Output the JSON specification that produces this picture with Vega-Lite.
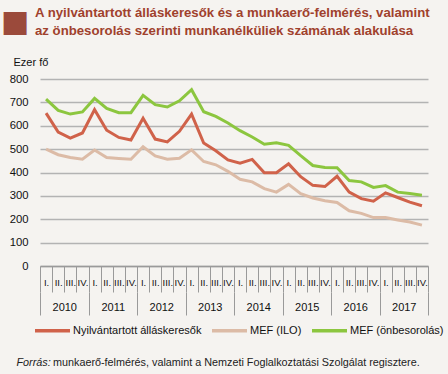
{
  "$schema": "https://vega.github.io/schema/vega-lite/v6.json",
  "width": 388,
  "height": 187,
  "autosize": "none",
  "padding": {"left": 40, "top": 79, "right": 20, "bottom": 108},
  "background": "#f5f3f0",
  "title": {
    "text": ["A nyilvántartott álláskeresők és a munkaerő-felmérés, valamint", "az önbesorolás szerinti munkanélküliek számának alakulása"],
    "anchor": "start",
    "frame": "group",
    "dx": -5,
    "offset": -32,
    "font": "Liberation Sans",
    "fontSize": 13.2,
    "fontWeight": "bold",
    "lineHeight": 17.6,
    "color": "#a0412d"
  },
  "config": {"view": {"stroke": null}},
  "data": {"values": [
    {"period": "2010 I.", "year": "2010", "Nyilvántartott álláskeresők": 654, "MEF (ILO)": 500, "MEF (önbesorolás)": 714},
    {"period": "2010 II.", "year": "2010", "Nyilvántartott álláskeresők": 573, "MEF (ILO)": 476, "MEF (önbesorolás)": 666},
    {"period": "2010 III.", "year": "2010", "Nyilvántartott álláskeresők": 547, "MEF (ILO)": 464, "MEF (önbesorolás)": 650},
    {"period": "2010 IV.", "year": "2010", "Nyilvántartott álláskeresők": 569, "MEF (ILO)": 457, "MEF (önbesorolás)": 659},
    {"period": "2011 I.", "year": "2011", "Nyilvántartott álláskeresők": 669, "MEF (ILO)": 496, "MEF (önbesorolás)": 717},
    {"period": "2011 II.", "year": "2011", "Nyilvántartott álláskeresők": 581, "MEF (ILO)": 464, "MEF (önbesorolás)": 674},
    {"period": "2011 III.", "year": "2011", "Nyilvántartott álláskeresők": 550, "MEF (ILO)": 460, "MEF (önbesorolás)": 656},
    {"period": "2011 IV.", "year": "2011", "Nyilvántartott álláskeresők": 539, "MEF (ILO)": 457, "MEF (önbesorolás)": 656},
    {"period": "2012 I.", "year": "2012", "Nyilvántartott álláskeresők": 632, "MEF (ILO)": 510, "MEF (önbesorolás)": 730},
    {"period": "2012 II.", "year": "2012", "Nyilvántartott álláskeresők": 543, "MEF (ILO)": 471, "MEF (önbesorolás)": 690},
    {"period": "2012 III.", "year": "2012", "Nyilvántartott álláskeresők": 531, "MEF (ILO)": 457, "MEF (önbesorolás)": 680},
    {"period": "2012 IV.", "year": "2012", "Nyilvántartott álláskeresők": 576, "MEF (ILO)": 461, "MEF (önbesorolás)": 707},
    {"period": "2013 I.", "year": "2013", "Nyilvántartott álláskeresők": 650, "MEF (ILO)": 497, "MEF (önbesorolás)": 754},
    {"period": "2013 II.", "year": "2013", "Nyilvántartott álláskeresők": 526, "MEF (ILO)": 447, "MEF (önbesorolás)": 660},
    {"period": "2013 III.", "year": "2013", "Nyilvántartott álláskeresők": 493, "MEF (ILO)": 433, "MEF (önbesorolás)": 640},
    {"period": "2013 IV.", "year": "2013", "Nyilvántartott álláskeresők": 454, "MEF (ILO)": 405, "MEF (önbesorolás)": 612},
    {"period": "2014 I.", "year": "2014", "Nyilvántartott álláskeresők": 440, "MEF (ILO)": 371, "MEF (önbesorolás)": 579},
    {"period": "2014 II.", "year": "2014", "Nyilvántartott álláskeresők": 456, "MEF (ILO)": 360, "MEF (önbesorolás)": 552},
    {"period": "2014 III.", "year": "2014", "Nyilvántartott álláskeresők": 399, "MEF (ILO)": 331, "MEF (önbesorolás)": 521},
    {"period": "2014 IV.", "year": "2014", "Nyilvántartott álláskeresők": 399, "MEF (ILO)": 316, "MEF (önbesorolás)": 527},
    {"period": "2015 I.", "year": "2015", "Nyilvántartott álláskeresők": 437, "MEF (ILO)": 349, "MEF (önbesorolás)": 516},
    {"period": "2015 II.", "year": "2015", "Nyilvántartott álláskeresők": 382, "MEF (ILO)": 309, "MEF (önbesorolás)": 472},
    {"period": "2015 III.", "year": "2015", "Nyilvántartott álláskeresők": 345, "MEF (ILO)": 291, "MEF (önbesorolás)": 430},
    {"period": "2015 IV.", "year": "2015", "Nyilvántartott álláskeresők": 340, "MEF (ILO)": 279, "MEF (önbesorolás)": 421},
    {"period": "2016 I.", "year": "2016", "Nyilvántartott álláskeresők": 384, "MEF (ILO)": 272, "MEF (önbesorolás)": 420},
    {"period": "2016 II.", "year": "2016", "Nyilvántartott álláskeresők": 316, "MEF (ILO)": 236, "MEF (önbesorolás)": 366},
    {"period": "2016 III.", "year": "2016", "Nyilvántartott álláskeresők": 288, "MEF (ILO)": 225, "MEF (önbesorolás)": 360},
    {"period": "2016 IV.", "year": "2016", "Nyilvántartott álláskeresők": 277, "MEF (ILO)": 207, "MEF (önbesorolás)": 336},
    {"period": "2017 I.", "year": "2017", "Nyilvántartott álláskeresők": 313, "MEF (ILO)": 207, "MEF (önbesorolás)": 344},
    {"period": "2017 II.", "year": "2017", "Nyilvántartott álláskeresők": 293, "MEF (ILO)": 197, "MEF (önbesorolás)": 316},
    {"period": "2017 III.", "year": "2017", "Nyilvántartott álláskeresők": 273, "MEF (ILO)": 188, "MEF (önbesorolás)": 310},
    {"period": "2017 IV.", "year": "2017", "Nyilvántartott álláskeresők": 258, "MEF (ILO)": 175, "MEF (önbesorolás)": 303}
  ]},
  "transform": [
    {"fold": ["Nyilvántartott álláskeresők", "MEF (ILO)", "MEF (önbesorolás)"], "as": ["series", "value"]}
  ],
  "layer": [
    {
      "mark": {"type": "line", "strokeWidth": 3},
      "encoding": {
        "x": {
          "field": "period", "type": "ordinal", "sort": null, "bandPosition": 0.5,
          "scale": {"type": "band", "paddingInner": 0, "paddingOuter": 0},
          "axis": {
            "title": "Forrás:", "titleFontStyle": "italic", "titleFont": "Liberation Sans",
            "titleFontSize": 10.8, "titleFontWeight": "normal", "titleColor": "#222", "titleX": -24, "titleY": 99,
            "titleAlign": "left", "titleBaseline": "alphabetic", "titleAngle": 0,
            "labelExpr": "substring(datum.label, 5)", "labelAngle": 0,
            "labelFont": "Liberation Sans", "labelFontSize": 9.5, "labelColor": "#111",
            "labelPadding": -15, "labelOverlap": false, "labelBound": false,
            "tickBand": "extent", "tickSize": 26, "tickColor": "#9a9a9a", "tickWidth": 1,
            "domainColor": "#9a9a9a", "domainWidth": 1.5, "grid": false
          }
        },
        "y": {
          "field": "value", "type": "quantitative",
          "scale": {"domain": [0, 800], "nice": false},
          "axis": {
            "values": [0, 100, 200, 300, 400, 500, 600, 700, 800],
            "title": "Ezer fő", "titleAngle": 0, "titleAlign": "left", "titleBaseline": "alphabetic",
            "titleX": -27, "titleY": -14, "titleFont": "Liberation Sans",
            "titleFontSize": 11, "titleFontWeight": "normal", "titleColor": "#111",
            "labelFont": "Liberation Sans", "labelFontSize": 11.3, "labelColor": "#111",
            "labelPadding": 12, "ticks": false, "domain": false,
            "grid": true, "gridColor": "#b3b3b3", "gridWidth": 1.5
          }
        },
        "color": {
          "field": "series", "type": "nominal",
          "scale": {"domain": ["Nyilvántartott álláskeresők", "MEF (ILO)", "MEF (önbesorolás)"], "range": ["#d0624a", "#dcbba6", "#8cc63f"]},
          "legend": {
            "orient": "none", "legendX": -7, "legendY": 232, "direction": "horizontal", "title": null,
            "symbolType": "stroke", "symbolSize": 1225, "symbolStrokeWidth": 3.5,
            "labelFont": "Liberation Sans", "labelFontSize": 11, "labelColor": "#111",
            "labelOffset": 1, "columnPadding": 3, "labelLimit": 300
          }
        }
      }
    },
    {
      "mark": {"type": "point", "opacity": 0},
      "encoding": {
        "x": {
          "field": "year", "type": "ordinal", "sort": null,
          "scale": {"type": "band", "paddingInner": 0, "paddingOuter": 0},
          "axis": {
            "orient": "bottom", "offset": 26, "domain": false, "grid": false,
            "tickBand": "extent", "tickSize": 23, "tickColor": "#9a9a9a", "tickWidth": 1,
            "labelAngle": 0, "labelPadding": -14, "labelFont": "Liberation Sans",
            "labelFontSize": 11, "labelColor": "#111",
            "title": "munkaerő-felmérés, valamint a Nemzeti Foglalkoztatási Szolgálat regisztere.",
            "titleFont": "Liberation Sans", "titleFontSize": 10.8, "titleFontWeight": "normal",
            "titleColor": "#222", "titleX": 12.5, "titleY": 73, "titleAlign": "left", "titleBaseline": "alphabetic", "titleAngle": 0
          }
        },
        "y": {
          "field": "value", "type": "quantitative",
          "axis": {
            "orient": "right", "labels": false, "ticks": false, "domain": false, "grid": false,
            "title": "■", "titleFont": "DejaVu Sans", "titleFontSize": 30, "titleFontWeight": "normal",
            "titleColor": "#9b4a3b", "titleAngle": 0, "titleAlign": "center", "titleBaseline": "middle",
            "titleX": -413.5, "titleY": -58
          }
        }
      }
    }
  ],
  "resolve": {
    "scale": {"x": "independent", "y": "independent"},
    "axis": {"x": "independent", "y": "independent"}
  }
}
